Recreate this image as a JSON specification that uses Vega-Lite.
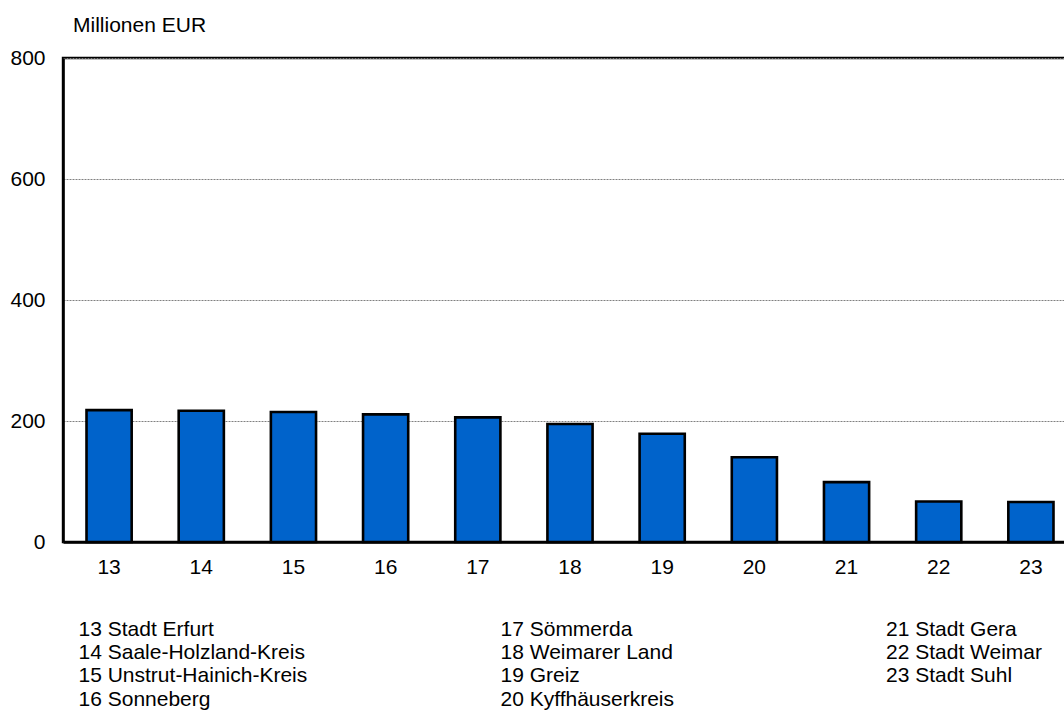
{
  "$schema": "https://vega.github.io/schema/vega-lite/v6.json",
  "autosize": {"type": "none"},
  "width": 1014,
  "height": 484,
  "padding": {"left": 63, "top": 58, "right": 0, "bottom": 168},
  "background": "white",
  "config": {
    "font": "Liberation Sans",
    "view": {"stroke": "black", "strokeWidth": 2.4},
    "axis": {
      "labelFont": "Liberation Sans",
      "titleFont": "Liberation Sans",
      "labelFontSize": 21,
      "labelColor": "black",
      "domainColor": "black",
      "domainWidth": 2.6,
      "ticks": false
    }
  },
  "datasets": {
    "kreise": [
      {"nr": "13", "wert": 218},
      {"nr": "14", "wert": 217},
      {"nr": "15", "wert": 215},
      {"nr": "16", "wert": 211},
      {"nr": "17", "wert": 206},
      {"nr": "18", "wert": 195},
      {"nr": "19", "wert": 179},
      {"nr": "20", "wert": 140},
      {"nr": "21", "wert": 99},
      {"nr": "22", "wert": 67},
      {"nr": "23", "wert": 66}
    ],
    "legende": [
      {"spalte": 1, "zeile": 1, "text": "13 Stadt Erfurt"},
      {"spalte": 1, "zeile": 2, "text": "14 Saale-Holzland-Kreis"},
      {"spalte": 1, "zeile": 3, "text": "15 Unstrut-Hainich-Kreis"},
      {"spalte": 1, "zeile": 4, "text": "16 Sonneberg"},
      {"spalte": 2, "zeile": 1, "text": "17 Sömmerda"},
      {"spalte": 2, "zeile": 2, "text": "18 Weimarer Land"},
      {"spalte": 2, "zeile": 3, "text": "19 Greiz"},
      {"spalte": 2, "zeile": 4, "text": "20 Kyffhäuserkreis"},
      {"spalte": 3, "zeile": 1, "text": "21 Stadt Gera"},
      {"spalte": 3, "zeile": 2, "text": "22 Stadt Weimar"},
      {"spalte": 3, "zeile": 3, "text": "23 Stadt Suhl"}
    ]
  },
  "layer": [
    {
      "data": {"name": "kreise"},
      "mark": {"type": "bar", "fill": "#0063CB", "stroke": "black", "strokeWidth": 2.6},
      "encoding": {
        "x": {
          "field": "nr",
          "type": "ordinal",
          "sort": null,
          "scale": {"paddingInner": 0.51, "paddingOuter": 0.255},
          "axis": {"title": null, "labelAngle": 0, "labelPadding": 14, "grid": false}
        },
        "y": {
          "field": "wert",
          "type": "quantitative",
          "scale": {"domain": [0, 800], "nice": false},
          "axis": {
            "values": [0, 200, 400, 600, 800],
            "labelPadding": 18,
            "grid": true,
            "gridColor": "#808080",
            "gridWidth": 1,
            "gridDash": [2, 1],
            "title": "Millionen EUR",
            "titleAngle": 0,
            "titleAlign": "left",
            "titleBaseline": "alphabetic",
            "titleFontSize": 21,
            "titleFontWeight": "normal",
            "titleColor": "black",
            "titleX": 9.5,
            "titleY": -26.3
          }
        }
      }
    },
    {
      "data": {"name": "legende"},
      "mark": {"type": "text", "align": "left", "baseline": "alphabetic", "fontSize": 21, "font": "Liberation Sans", "color": "black"},
      "encoding": {
        "x": {
          "field": "spalte",
          "type": "quantitative",
          "scale": {"domain": [1, 2, 3], "range": [15.5, 437.5, 823], "nice": false, "zero": false},
          "axis": null
        },
        "y": {
          "field": "zeile",
          "type": "quantitative",
          "scale": {"domain": [1, 4], "range": [577.7, 647.6], "nice": false, "zero": false},
          "axis": null
        },
        "text": {"field": "text"}
      }
    }
  ],
  "resolve": {"scale": {"x": "independent", "y": "independent"}}
}
